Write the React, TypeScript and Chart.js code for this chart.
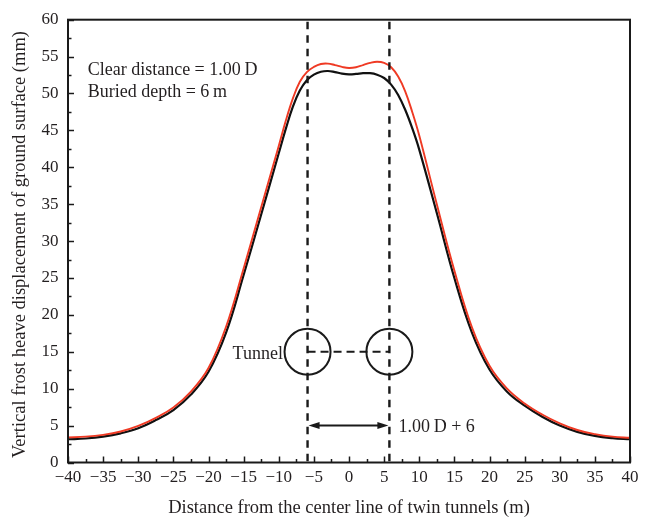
import { useEffect, useRef } from 'react';
import { Chart, registerables } from 'chart.js';

Chart.register(...registerables);

// ---- data ----
const xValues = [
  -40, -37.5, -35, -32.5, -30, -27.5, -25, -22.5, -20, -17.5, -15, -12.5, -10, -9, -8, -7, -6, -5, -4, -3, -2, -1,
  0, 1, 2, 3, 4, 5, 6, 7, 8, 9, 10, 12.5, 15, 17.5, 20, 22.5, 25, 27.5, 30, 32.5, 35, 37.5, 40,
];
const blackSeries = [
  3.15, 3.25, 3.5, 3.95, 4.65, 5.75, 7.1, 9.2, 12.3, 17.6, 25.4, 33.6, 41.9, 45.2, 48.2, 50.4, 51.8, 52.55, 52.95, 53.05, 52.9, 52.7,
  52.6, 52.65, 52.75, 52.75, 52.55, 52.1, 51.2, 49.8, 47.8, 45.3, 42.4, 33.8, 25.0, 17.6, 12.6, 9.6, 7.7, 6.2, 5.0, 4.15, 3.6, 3.3, 3.15,
];
const redSeries = [
  3.4, 3.5, 3.75, 4.2, 4.95, 6.05, 7.45, 9.6, 12.8, 18.4, 26.3, 34.6, 42.9, 46.3, 49.3, 51.6, 52.9, 53.6, 54.0, 54.05, 53.85, 53.6,
  53.45, 53.55, 53.85, 54.15, 54.3, 54.15, 53.55, 52.3, 50.3, 47.5, 44.3, 35.0, 26.0, 18.3, 13.1, 10.0, 8.0, 6.5, 5.3, 4.4, 3.85, 3.5, 3.35,
];

const xMin = -40;
const xMax = 40;
const yMin = 0;
const yMax = 60;
const majorStep = 5;
const minorStep = 2.5;

// annotation values (data units)
const tunnelCentersX = [-5.9, 5.75];
const tunnelCenterY = 15;
const arrowY = 5;
const noteX = -37.2;
const noteLines = ['Clear distance = 1.00\u2009D', 'Buried depth = 6\u2009m'];
const noteBaselinesY = [52.5, 49.5];
const tunnelLabel = 'Tunnel';
const tunnelLabelX = -9.4;
const tunnelLabelY = 14.0;
const spanLabel = '1.00\u2009D + 6';
const spanLabelX = 7.06;
const spanLabelY = 4.15;

const xTitle = 'Distance from the center line of twin tunnels (m)';
const yTitle = 'Vertical frost heave displacement of ground surface (mm)';

const FONT = '"Liberation Serif", "Times New Roman", serif';
const TEXT = '#231f20';
const INK = '#1a1a1a';

const overlay = {
  id: 'overlay',
  afterDraw(chart: any) {
    const { ctx, chartArea: a, scales } = chart;
    const xs = scales.x;
    const ys = scales.y;
    ctx.save();

    // frame
    ctx.strokeStyle = INK;
    ctx.lineWidth = 2;
    ctx.setLineDash([]);
    ctx.strokeRect(a.left, a.top, a.right - a.left, a.bottom - a.top);

    // inner ticks
    ctx.lineWidth = 1.5;
    for (let v = xMin; v <= xMax + 1e-9; v += minorStep) {
      const px = Math.round(xs.getPixelForValue(v)) + 0.5;
      const major = Math.abs(v / majorStep - Math.round(v / majorStep)) < 1e-6;
      const len = major ? 6 : 3.5;
      ctx.beginPath();
      ctx.moveTo(px, a.bottom);
      ctx.lineTo(px, a.bottom - len);
      ctx.stroke();
    }
    for (let v = yMin; v <= yMax + 1e-9; v += minorStep) {
      const py = Math.round(ys.getPixelForValue(v)) + 0.5;
      const major = Math.abs(v / majorStep - Math.round(v / majorStep)) < 1e-6;
      const len = major ? 6 : 3.5;
      ctx.beginPath();
      ctx.moveTo(a.left, py);
      ctx.lineTo(a.left + len, py);
      ctx.stroke();
    }

    // vertical dashed lines through tunnel centres
    ctx.lineWidth = 2.4;
    ctx.setLineDash([7.5, 6]);
    for (const cx of tunnelCentersX) {
      const px = xs.getPixelForValue(cx);
      ctx.beginPath();
      ctx.moveTo(px, a.top + 2);
      ctx.lineTo(px, a.bottom);
      ctx.stroke();
    }

    // dashed line between tunnel centres
    const cy = ys.getPixelForValue(tunnelCenterY);
    const lx = xs.getPixelForValue(tunnelCentersX[0]);
    const rx = xs.getPixelForValue(tunnelCentersX[1]);
    ctx.lineWidth = 2;
    ctx.setLineDash([8, 5]);
    ctx.beginPath();
    ctx.moveTo(lx, cy);
    ctx.lineTo(rx, cy);
    ctx.stroke();

    // tunnel circles
    ctx.setLineDash([]);
    ctx.lineWidth = 2;
    for (const cx of tunnelCentersX) {
      ctx.beginPath();
      ctx.arc(xs.getPixelForValue(cx), cy, 23, 0, Math.PI * 2);
      ctx.stroke();
    }

    // double arrow
    const ay = ys.getPixelForValue(arrowY);
    const head = 12;
    const hw = 3.5;
    ctx.lineWidth = 2;
    ctx.beginPath();
    ctx.moveTo(lx + head - 1, ay);
    ctx.lineTo(rx - head + 1, ay);
    ctx.stroke();
    ctx.fillStyle = INK;
    ctx.beginPath();
    ctx.moveTo(lx + 1, ay);
    ctx.lineTo(lx + head, ay - hw);
    ctx.lineTo(lx + head, ay + hw);
    ctx.closePath();
    ctx.fill();
    ctx.beginPath();
    ctx.moveTo(rx - 1, ay);
    ctx.lineTo(rx - head, ay - hw);
    ctx.lineTo(rx - head, ay + hw);
    ctx.closePath();
    ctx.fill();

    // texts
    ctx.fillStyle = TEXT;
    ctx.font = `18px ${FONT}`;
    ctx.textBaseline = 'alphabetic';
    ctx.textAlign = 'left';
    noteLines.forEach((t, i) => {
      ctx.fillText(t, xs.getPixelForValue(noteX), ys.getPixelForValue(noteBaselinesY[i]));
    });
    ctx.textAlign = 'right';
    ctx.fillText(tunnelLabel, xs.getPixelForValue(tunnelLabelX), ys.getPixelForValue(tunnelLabelY));
    ctx.textAlign = 'left';
    ctx.fillText(spanLabel, xs.getPixelForValue(spanLabelX), ys.getPixelForValue(spanLabelY));

    // y-axis title
    ctx.save();
    ctx.font = `18.5px ${FONT}`;
    ctx.textAlign = 'center';
    ctx.textBaseline = 'middle';
    ctx.translate(20.5, 244.5);
    ctx.rotate(-Math.PI / 2);
    ctx.fillText(yTitle, 0, 0);
    ctx.restore();

    ctx.restore();
  },
};

export default function App() {
  const ref = useRef<HTMLCanvasElement | null>(null);

  useEffect(() => {
    if (!ref.current) return;
    const tickFont = { family: FONT, size: 17 };
    const chart = new Chart(ref.current, {
      type: 'line',
      data: {
        datasets: [
          {
            label: 'red',
            data: xValues.map((x, i) => ({ x, y: redSeries[i] })),
            borderColor: '#ef3a24',
            borderWidth: 1.9,
            pointRadius: 0,
            fill: false,
            tension: 0.4,
          },
          {
            label: 'black',
            data: xValues.map((x, i) => ({ x, y: blackSeries[i] })),
            borderColor: '#111111',
            borderWidth: 2.2,
            pointRadius: 0,
            fill: false,
            tension: 0.4,
          },
        ],
      },
      options: {
        responsive: false,
        animation: false,
        devicePixelRatio: 1,
        layout: { padding: { top: 12, right: 19, left: 0, bottom: 0 } },
        plugins: { legend: { display: false }, tooltip: { enabled: false } },
        scales: {
          x: {
            type: 'linear',
            min: xMin,
            max: xMax,
            border: { display: false },
            grid: { display: false, drawTicks: false },
            ticks: {
              stepSize: majorStep,
              autoSkip: false,
              maxRotation: 0,
              padding: 5,
              color: TEXT,
              font: tickFont,
              callback: (v: any) => (Number(v) < 0 ? '\u2212' + Math.abs(Number(v)) : String(v)),
            },
            title: {
              display: true,
              text: xTitle,
              color: TEXT,
              font: { family: FONT, size: 18.5 },
              padding: { top: 0, bottom: 3 },
            },
            afterFit: (s: any) => {
              s.height = 59.5;
            },
          },
          y: {
            type: 'linear',
            min: yMin,
            max: yMax,
            border: { display: false },
            grid: { display: false, drawTicks: false },
            ticks: {
              stepSize: majorStep,
              autoSkip: false,
              padding: 9.5,
              color: TEXT,
              font: tickFont,
            },
            afterFit: (s: any) => {
              s.width = 68;
            },
          },
        },
      },
      plugins: [overlay],
    } as any);
    return () => chart.destroy();
  }, []);

  return (
    <div style={{ position: 'absolute', left: 0, top: 0, width: 649, height: 522, background: '#fff' }}>
      <canvas ref={ref} width={649} height={522} style={{ display: 'block' }} />
    </div>
  );
}
